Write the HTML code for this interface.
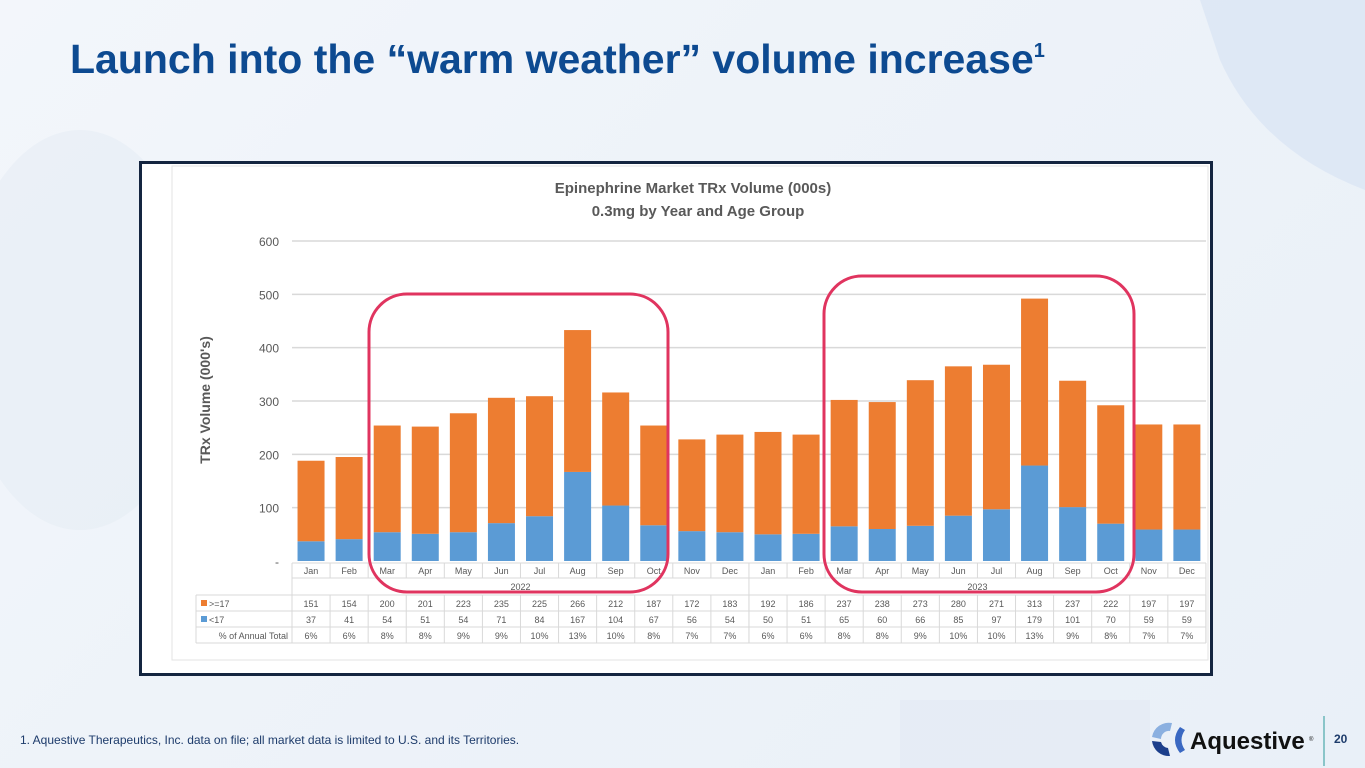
<!DOCTYPE html>
<html><head><meta charset="utf-8">
<style>
html,body{margin:0;padding:0;width:1365px;height:768px;overflow:hidden;font-family:"Liberation Sans",sans-serif;}
body{background:linear-gradient(135deg,#f3f6fb 0%,#eef3f9 40%,#e9f0f8 100%);position:relative;}
</style></head>
<body>
<svg width="1365" height="768" viewBox="0 0 1365 768" style="position:absolute;left:0;top:0">
  <g>
    <path d="M1200 0 L1365 0 L1365 190 Q1260 150 1220 60 Z" fill="#d9e4f3" opacity="0.7"/>
    <ellipse cx="80" cy="330" rx="120" ry="200" fill="#e4ebf4" opacity="0.5"/>
    <rect x="900" y="700" width="250" height="68" fill="#e2eaf4" opacity="0.6"/>
  </g>
  <text x="70" y="73" font-size="41" font-weight="bold" fill="#0d4a91">Launch into the “warm weather” volume increase<tspan font-size="20" dy="-16">1</tspan></text>
  <rect x="140.5" y="162.5" width="1071" height="512" fill="#ffffff" stroke="#142540" stroke-width="3"/>
  <rect x="172" y="166" width="1036" height="494" fill="#ffffff" stroke="#e3e3e3"/>
  <text x="693" y="193" font-size="15" font-weight="bold" fill="#595959" text-anchor="middle">Epinephrine Market TRx Volume (000s)</text>
  <text x="698" y="216" font-size="15" font-weight="bold" fill="#595959" text-anchor="middle">0.3mg by Year and Age Group</text>
  <text transform="translate(210,400) rotate(-90)" font-size="14" font-weight="bold" fill="#595959" text-anchor="middle">TRx Volume (000's)</text>
  <g id="grid"></g>
  <g id="bars"></g>
  <g id="table"></g>
  <rect x="369" y="294" width="299" height="298" rx="38" fill="none" stroke="#e0345f" stroke-width="3"/>
  <rect x="824" y="276" width="310" height="316" rx="38" fill="none" stroke="#e0345f" stroke-width="3"/>
  <text x="20" y="744" font-size="12" fill="#1d3b6b">1. Aquestive Therapeutics, Inc. data on file; all market data is limited to U.S. and its Territories.</text>
  <g>
    <path d="M1172 723 A17 17 0 0 0 1152 737 L1161 739 A8 8 0 0 1 1170 731 Z" fill="#8bb0e0"/>
    <path d="M1152 741 A17 17 0 0 0 1170 756 L1168 748 A8 8 0 0 1 1161 742 Z" fill="#1c3f8c"/>
    <path d="M1180 727 Q1170 740 1180 753 L1185 750 Q1178 740 1185 730 Z" fill="#3a68c2"/>
    <text x="1190" y="749" font-size="24" font-weight="bold" fill="#111">Aquestive</text>
    <text x="1309" y="741" font-size="6" fill="#111">®</text>
  </g>
  <line x1="1324" y1="716" x2="1324" y2="766" stroke="#2a9a9a" stroke-width="1"/>
  <text x="1334" y="743" font-size="12" font-weight="bold" fill="#1d3b6b">20</text>
</svg>
<script>
const months=["Jan","Feb","Mar","Apr","May","Jun","Jul","Aug","Sep","Oct","Nov","Dec","Jan","Feb","Mar","Apr","May","Jun","Jul","Aug","Sep","Oct","Nov","Dec"];
const adults=[151,154,200,201,223,235,225,266,212,187,172,183,192,186,237,238,273,280,271,313,237,222,197,197];
const kids=[37,41,54,51,54,71,84,167,104,67,56,54,50,51,65,60,66,85,97,179,101,70,59,59];
const pct=["6%","6%","8%","8%","9%","9%","10%","13%","10%","8%","7%","7%","6%","6%","8%","8%","9%","10%","10%","13%","9%","8%","7%","7%"];
const years=["2022","2023"];
const yTicks=[0,100,200,300,400,500,600];
const NS="http://www.w3.org/2000/svg";
const x0=292,colW=38.08,y0=561,yPer=320/600,barW=27;
const y=v=>y0-v*yPer;
const xc=i=>x0+colW*(i+0.5);
function mk(tag,attrs,parent,txt){const e=document.createElementNS(NS,tag);for(const k in attrs)e.setAttribute(k,attrs[k]);if(txt!==undefined)e.textContent=txt;parent.appendChild(e);return e;}
const grid=document.getElementById('grid'),bars=document.getElementById('bars'),tbl=document.getElementById('table');
yTicks.forEach(t=>{
  if(t>0){const l=mk('line',{x1:x0,x2:1206,y1:y(t),y2:y(t),stroke:'#d9d9d9','stroke-width':1.5},grid);
  
  }
  const tx=mk('text',{x:279,y:y(t)+5,'font-size':12,fill:'#595959','text-anchor':'end'},grid,t===0?'-':String(t));
  
  
});
months.forEach((m,i)=>{
  const b=mk('rect',{x:xc(i)-barW/2,y:y(kids[i]),width:barW,height:kids[i]*yPer,fill:'#5b9bd5'},bars);
  
  
  const a=mk('rect',{x:xc(i)-barW/2,y:y(kids[i]+adults[i]),width:barW,height:adults[i]*yPer,fill:'#ed7d31'},bars);
  
  
});
const L='#d9d9d9';
mk('line',{x1:x0,x2:1206,y1:563,y2:563,stroke:L},tbl);
mk('line',{x1:x0,x2:1206,y1:578,y2:578,stroke:L},tbl);
[595,611,627,643].forEach(r=>mk('line',{x1:196,x2:1206,y1:r,y2:r,stroke:L},tbl));
mk('line',{x1:196,x2:196,y1:595,y2:643,stroke:L},tbl);
for(let i=0;i<=24;i++){const xx=x0+colW*i;mk('line',{x1:xx,x2:xx,y1:563,y2:(i===0||i===12||i===24)?643:578,stroke:L},tbl);mk('line',{x1:xx,x2:xx,y1:595,y2:643,stroke:L},tbl);}
months.forEach((m,i)=>{
  const t=mk('text',{x:xc(i),y:574,'font-size':9,fill:'#595959','text-anchor':'middle'},tbl,m);
  
  
  const a=mk('text',{x:xc(i),y:607,'font-size':9,fill:'#595959','text-anchor':'middle'},tbl,String(adults[i]));
  
  
  const k=mk('text',{x:xc(i),y:623,'font-size':9,fill:'#595959','text-anchor':'middle'},tbl,String(kids[i]));
  
  
  const p=mk('text',{x:xc(i),y:639,'font-size':9,fill:'#595959','text-anchor':'middle'},tbl,pct[i]);
  
  
});
years.forEach((yr,j)=>{
  const t=mk('text',{x:x0+colW*12*j+colW*6,y:590,'font-size':9,fill:'#595959','text-anchor':'middle'},tbl,yr);
  
  
});
mk('rect',{x:201,y:600,width:6,height:6,fill:'#ed7d31'},tbl);
const l1=mk('text',{x:209,y:607,'font-size':9,fill:'#595959'},tbl,'>=17');


mk('rect',{x:201,y:616,width:6,height:6,fill:'#5b9bd5'},tbl);
const l2=mk('text',{x:209,y:623,'font-size':9,fill:'#595959'},tbl,'<17');


const l3=mk('text',{x:288,y:639,'font-size':9,fill:'#595959','text-anchor':'end'},tbl,'% of Annual Total');


</script>
</body></html>
